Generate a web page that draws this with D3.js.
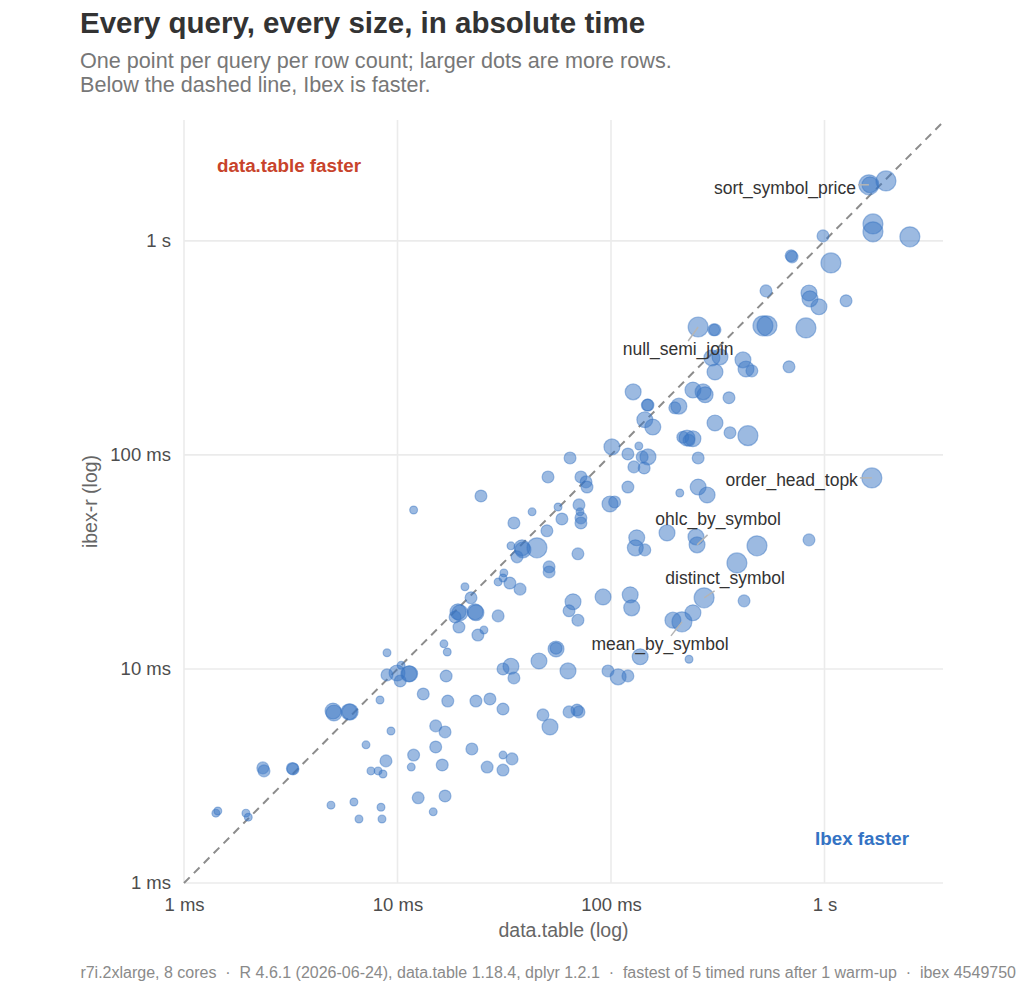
<!DOCTYPE html>
<html>
<head>
<meta charset="utf-8">
<script src="https://cdn.jsdelivr.net/npm/d3@7"></script>
<style>
  body { margin: 0; background: #fff; }
  text { font-family: "Liberation Sans", Arial, sans-serif; }
</style>
</head>
<body>
<div id="cntr"></div>
<script>
// timings in milliseconds, one entry per query per row count
const dtMs = [1.41, 1.44, 1.95, 2.0, 2.34, 2.37, 3.24, 3.22, 4.99, 5.04, 5.93, 6.0, 8.28, 8.93, 8.93, 9.95, 10.4, 10.3, 11.3, 11.4,
  9.32, 7.12, 8.83, 7.51, 8.11, 8.55, 4.88, 6.25, 8.37, 6.6, 8.46, 11.9, 11.6, 12.5, 16.5, 17.1, 16.9, 13.2, 17.2, 23.3,
  27.1, 31.2, 15.1, 16.7, 15.1, 16.2, 16.7, 14.7, 22.3, 31.2, 34.4, 26.3, 31.2, 31.2, 34.0, 35.1, 46.0, 55.3, 62.9, 48.0,
  51.8, 63.6, 69.3, 70.8, 50.7, 72.3, 76.4, 77.2, 24.6, 11.9, 42.7, 56.5, 58.9, 70.8, 71.6, 72.3, 72.3, 35.1, 50.1, 34.0,
  38.3, 38.7, 45.0, 36.3, 70.0, 51.3, 51.3, 31.5, 31.2, 29.6, 33.6, 37.5, 20.7, 22.1, 19.2, 19.6, 18.6, 23.1, 23.3, 19.4,
  25.4, 23.8, 29.6, 66.4, 63.6, 70.0, 91.8, 123, 125, 195, 215, 242, 273, 420, 389, 483, 846, 183, 250, 253,
  132, 130, 144, 55.3, 137, 232, 96.8, 108, 120, 127, 149, 148, 199, 208, 144, 157, 101, 64.3, 120, 135,
  140, 149, 128, 143, 98.9, 104, 120, 242, 270, 276, 357, 307, 361, 438, 217, 227, 232, 242, 256, 210,
  256, 282, 1667, 307, 297, 324, 415, 429, 457, 682, 256, 307, 303, 515, 538, 819, 532, 846, 855, 942,
  1262, 705, 698, 1072, 984, 1687, 1687, 2512, 1615, 1633, 1941];

const ibexMs = [2.12, 2.17, 2.12, 2.03, 3.45, 3.34, 3.41, 3.43, 6.36, 6.23, 6.3, 6.3, 7.16, 11.9, 9.38, 9.58, 10.4, 8.79, 9.48, 9.5,
  5.13, 4.42, 3.72, 3.34, 3.34, 3.23, 2.31, 2.39, 2.26, 1.99, 1.99, 3.96, 3.48, 2.5, 13.1, 12.0, 9.27, 7.64, 7.08, 7.08,
  7.24, 6.5, 5.42, 5.08, 4.32, 3.56, 2.55, 2.15, 4.23, 3.96, 3.8, 3.48, 3.37, 10.0, 10.3, 9.08, 10.9, 12.4, 9.79, 6.1,
  5.36, 6.3, 6.43, 6.3, 78.9, 78.9, 74.8, 70.8, 64.3, 55.3, 54.2, 57.1, 50.2, 58.4, 54.2, 50.8, 48.1, 48.1, 44.2, 37.6,
  36.8, 36.0, 36.8, 33.4, 34.5, 30.0, 28.4, 28.1, 26.6, 25.5, 25.2, 23.6, 24.2, 21.5, 18.5, 18.3, 17.5, 18.5, 18.3, 15.7,
  15.2, 14.4, 17.7, 20.6, 18.7, 16.9, 21.7, 22.2, 19.3, 16.9, 16.6, 18.3, 21.5, 20.8, 31.3, 37.6, 40.1, 43.2, 41.4, 38.0,
  41.0, 36.8, 36.0, 12.5, 11.4, 11.1, 9.79, 9.18, 9.28, 197, 171, 171, 166, 169, 146, 135, 109, 96.8, 101, 110,
  97.9, 97.9, 87.9, 86.9, 59.0, 60.3, 70.8, 201, 197, 191, 185, 141, 127, 123, 121, 120, 117, 119, 96.8, 66.4,
  70.8, 65.0, 78.1, 244, 284, 287, 278, 252, 247, 258, 396, 384, 384, 401, 401, 392, 584, 571, 536, 492,
  525, 842, 852, 789, 1055, 1200, 1102, 1044, 1828, 1828, 1906];

const rows = [1e4, 1e4, 1e4, 1e4, 1e5, 1e5, 1e5, 1e5, 1e6, 1e6, 1e6, 1e6, 1e4, 1e4, 1e5, 1e6, 1e4, 1e5, 1e6, 1e6,
  1e4, 1e4, 1e5, 1e4, 1e4, 1e4, 1e4, 1e4, 1e4, 1e4, 1e4, 1e5, 1e4, 1e5, 1e4, 1e4, 1e5, 1e5, 1e5, 1e5,
  1e5, 1e5, 1e5, 1e5, 1e5, 1e5, 1e5, 1e4, 1e5, 1e4, 1e5, 1e5, 1e5, 1e5, 1e6, 1e5, 1e6, 1e6, 1e6, 1e5,
  1e6, 1e5, 1e5, 1e5, 1e5, 1e5, 1e5, 1e5, 1e5, 1e4, 1e4, 1e4, 1e5, 1e5, 1e4, 1e5, 1e5, 1e5, 1e5, 1e4,
  1e6, 1e6, 1e7, 1e5, 1e5, 1e5, 1e5, 1e4, 1e4, 1e4, 1e5, 1e5, 1e4, 1e5, 1e6, 1e6, 1e5, 1e6, 1e6, 1e5,
  1e4, 1e5, 1e5, 1e6, 1e5, 1e5, 1e6, 1e6, 1e6, 1e6, 1e7, 1e6, 1e7, 1e5, 1e7, 1e7, 1e5, 1e6, 1e6, 1e6,
  1e6, 1e6, 1e5, 1e5, 1e6, 1e4, 1e5, 1e6, 1e5, 1e6, 1e5, 1e5, 1e5, 1e6, 1e6, 1e6, 1e6, 1e5, 1e5, 1e4,
  1e5, 1e6, 1e5, 1e5, 1e6, 1e5, 1e5, 1e6, 1e6, 1e6, 1e5, 1e6, 1e5, 1e7, 1e5, 1e6, 1e5, 1e6, 1e5, 1e4,
  1e6, 1e6, 1e7, 1e6, 1e6, 1e6, 1e6, 1e6, 1e5, 1e5, 1e7, 1e5, 1e5, 1e7, 1e7, 1e7, 1e5, 1e6, 1e6, 1e6,
  1e5, 1e5, 1e5, 1e7, 1e5, 1e7, 1e7, 1e7, 1e7, 1e6, 1e7];

// the queries called out on the chart, with the point each one points at
const labelQueries = ["sort_symbol_price", "null_semi_join", "order_head_topk", "ohlc_by_symbol", "distinct_symbol", "mean_by_symbol"];
const labelDtMs = [1615, 256, 1667, 253, 273, 215];
const labelIbexMs = [1828, 396, 78.1, 38.0, 21.5, 16.6];

const tickValues = [1, 10, 100, 1000];
const tickLabels = ["1 ms", "10 ms", "100 ms", "1 s"];

// layout of the callout texts relative to their point: [text x, baseline y, anchor]
const labelLayout = [[-13, 9, "end"], [-20, 28, "middle"], [-14, 8, "end"], [21, -20, "middle"], [21, -14, "middle"], [-22, 28, "middle"]];

const width = 1024, height = 994;
const mLeft = 184, mRight = 943, mTop = 120, mBottom = 883;

const svg = d3.select("#cntr")
    .append("svg")
    .attr("width", width)
    .attr("height", height);

const x = d3.scaleLog().domain([1, 3590]).range([mLeft, mRight]);
const y = d3.scaleLog().domain([1, 3670]).range([mBottom, mTop]);
const r = d3.scaleLog().domain([1e4, 1e7]).range([3.9, 10]);

// titles
svg.append("text")
    .attr("x", 80).attr("y", 33)
    .style("font-size", "29.5px").style("font-weight", "bold").style("fill", "#333")
    .text("Every query, every size, in absolute time");

const sub = svg.append("text")
    .style("font-size", "21.6px").style("fill", "#777");
sub.append("tspan").attr("x", 80).attr("y", 68)
    .text("One point per query per row count; larger dots are more rows.");
sub.append("tspan").attr("x", 80).attr("y", 92)
    .text("Below the dashed line, Ibex is faster.");

// grid
svg.append("g").selectAll("line")
    .data(tickValues)
    .join("line")
        .attr("x1", d => x(d)).attr("x2", d => x(d))
        .attr("y1", mTop).attr("y2", mBottom)
        .style("stroke", "#ebebeb").style("stroke-width", 1.6);

svg.append("g").selectAll("line")
    .data(tickValues)
    .join("line")
        .attr("x1", mLeft).attr("x2", mRight)
        .attr("y1", d => y(d)).attr("y2", d => y(d))
        .style("stroke", "#ebebeb").style("stroke-width", 1.6);

// axes (labels only, ggplot minimal style)
const xAxis = d3.axisBottom(x).tickValues(tickValues).tickFormat((d, i) => tickLabels[i]).tickSize(0).tickPadding(15);
const yAxis = d3.axisLeft(y).tickValues(tickValues).tickFormat((d, i) => tickLabels[i]).tickSize(0).tickPadding(13);

svg.append("g").attr("transform", `translate(0,${mBottom})`).call(xAxis)
    .call(g => g.select(".domain").remove())
    .selectAll("text").style("font-size", "18.5px").style("fill", "#4d4d4d").style("font-family", "Liberation Sans, Arial, sans-serif");

svg.append("g").attr("transform", `translate(${mLeft},0)`).call(yAxis)
    .call(g => g.select(".domain").remove())
    .selectAll("text").style("font-size", "18.5px").style("fill", "#4d4d4d").style("font-family", "Liberation Sans, Arial, sans-serif");

svg.append("text")
    .attr("x", (mLeft + mRight) / 2).attr("y", 937)
    .attr("text-anchor", "middle")
    .style("font-size", "19.5px").style("fill", "#666")
    .text("data.table (log)");

svg.append("text")
    .attr("transform", `translate(97,${(mTop + mBottom) / 2}) rotate(-90)`)
    .attr("text-anchor", "middle")
    .style("font-size", "19.5px").style("fill", "#666")
    .text("ibex-r (log)");

// parity line
const lineMax = 3590;
svg.append("line")
    .attr("x1", x(1)).attr("y1", y(1))
    .attr("x2", x(lineMax)).attr("y2", y(lineMax))
    .style("stroke", "#8c8c8c").style("stroke-width", 2)
    .style("stroke-dasharray", "8,6");

// points
const points = dtMs.map((d, i) => ({dt: d, ibex: ibexMs[i], rows: rows[i]}));

svg.append("g")
    .selectAll("circle")
    .data(points)
    .join("circle")
        .attr("cx", d => x(d.dt))
        .attr("cy", d => y(d.ibex))
        .attr("r", d => r(d.rows))
        .style("fill", "#3a76c4")
        .style("fill-opacity", 0.5)
        .style("stroke", "#3a76c4")
        .style("stroke-opacity", 0.45)
        .style("stroke-width", 1.2);

// callouts
const callouts = labelQueries.map((q, i) => ({
    name: q, dt: labelDtMs[i], ibex: labelIbexMs[i], lay: labelLayout[i]
}));

const cg = svg.append("g")
    .selectAll("g")
    .data(callouts)
    .join("g")
        .attr("transform", d => `translate(${x(d.dt)},${y(d.ibex)})`);

cg.append("line")
    .attr("x1", 0).attr("y1", 0)
    .attr("x2", d => d.lay[2] === "end" ? d.lay[0] + 2 : d.lay[0] * 0.5)
    .attr("y2", d => d.lay[2] === "end" ? 0 : d.lay[1] * 0.5)
    .style("stroke", "#b5b5b5").style("stroke-width", 1.5);

cg.append("text")
    .attr("x", d => d.lay[0])
    .attr("y", d => d.lay[1])
    .attr("text-anchor", d => d.lay[2])
    .style("font-size", "17.5px").style("fill", "#333")
    .text(d => d.name);

// corner notes
svg.append("text")
    .attr("x", 289).attr("y", 172)
    .attr("text-anchor", "middle")
    .style("font-size", "18.8px").style("font-weight", "bold").style("fill", "#c8432b")
    .text("data.table faster");

svg.append("text")
    .attr("x", 862).attr("y", 845)
    .attr("text-anchor", "middle")
    .style("font-size", "18.8px").style("font-weight", "bold").style("fill", "#3473c4")
    .text("Ibex faster");

// caption
const sep = "\u00a0\u00a0\u00b7\u00a0\u00a0";
svg.append("text")
    .attr("x", 1016).attr("y", 978)
    .attr("text-anchor", "end")
    .style("font-size", "16px").style("fill", "#8a8a8a")
    .text("r7i.2xlarge, 8 cores" + sep + "R 4.6.1 (2026-06-24), data.table 1.18.4, dplyr 1.2.1" + sep +
          "fastest of 5 timed runs after 1 warm-up" + sep + "ibex 4549750");
</script>
</body>
</html>
